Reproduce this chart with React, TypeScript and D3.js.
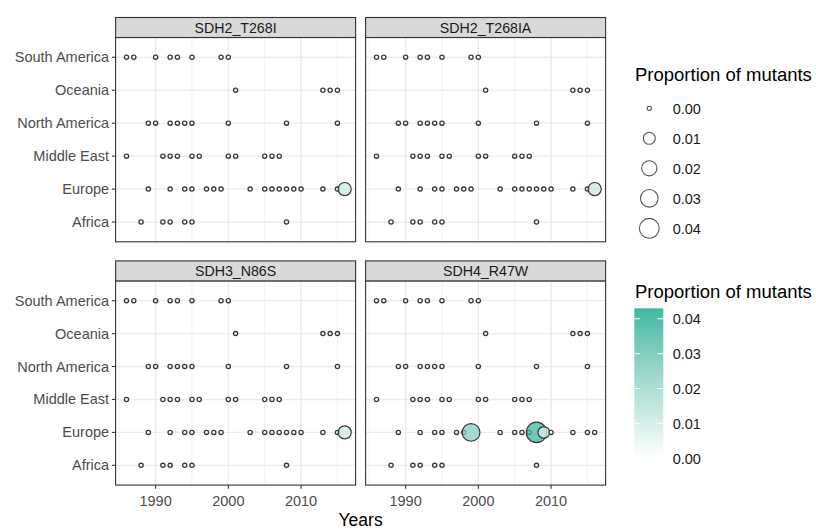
import React from "react";
import * as d3 from "d3";

// regions, top to bottom as in the panels
const regions = ["South America", "Oceania", "North America", "Middle East", "Europe", "Africa"];
const mutations = ["SDH2_T268I", "SDH2_T268IA", "SDH3_N86S", "SDH4_R47W"];

// sampling years per region (same in every panel)
const yearsSouthAmerica = [1986, 1987, 1990, 1992, 1993, 1995, 1999, 2000];
const yearsOceania = [2001, 2013, 2014, 2015];
const yearsNorthAmerica = [1989, 1990, 1992, 1993, 1994, 1995, 2000, 2008, 2015];
const yearsMiddleEast = [1986, 1991, 1992, 1993, 1995, 1996, 2000, 2001, 2005, 2006, 2007];
const yearsEurope = [1989, 1992, 1994, 1995, 1997, 1998, 1999, 2003, 2005, 2006, 2007, 2008, 2009, 2010, 2013, 2015, 2016];
const yearsAfrica = [1988, 1991, 1992, 1994, 1995, 2008];
const yearsByRegion = [yearsSouthAmerica, yearsOceania, yearsNorthAmerica, yearsMiddleEast, yearsEurope, yearsAfrica];

// the non-zero proportions (everything else is 0)
const mutantPanel = ["SDH2_T268I", "SDH2_T268IA", "SDH3_N86S", "SDH4_R47W", "SDH4_R47W", "SDH4_R47W"];
const mutantRegion = ["Europe", "Europe", "Europe", "Europe", "Europe", "Europe"];
const mutantYear = [2016, 2016, 2016, 1999, 2008, 2009];
const mutantProp = [0.013, 0.013, 0.013, 0.03, 0.043, 0.009];

const xTicks = [1990, 2000, 2010];
const xMinor = [1985, 1995, 2005, 2015];
const legendBreaks = [0, 0.01, 0.02, 0.03, 0.04];

const FONT = "'Liberation Sans', Arial, Helvetica, sans-serif";
const maxProp = 0.043;
const highColor = "#3eb8a4";

export default function App() {
  const width = 816;
  const height = 529;
  const colLeft = [115.6, 365.6];
  const panelW = 240;
  const rowBox = [
    { top: 37.5, bottom: 241.8 },
    { top: 280.9, bottom: 485.1 },
  ];
  const stripH = 20;

  const size = d3.scaleSqrt().domain([0, maxProp]).range([2.1, 10.2]);
  const fill = d3.scaleLinear<string>().domain([0, maxProp]).range(["#ffffff", highColor]).interpolate(d3.interpolateLab);

  const lookup = (panel: string, region: string, year: number) => {
    for (let i = 0; i < mutantPanel.length; i++) {
      if (mutantPanel[i] === panel && mutantRegion[i] === region && mutantYear[i] === year) return mutantProp[i];
    }
    return 0;
  };

  const panels = mutations.map((m, i) => {
    const col = i % 2;
    const row = Math.floor(i / 2);
    const { top, bottom } = rowBox[row];
    const x = d3.scaleLinear().domain([1984.5, 2017.5]).range([colLeft[col], colLeft[col] + panelW]);
    const y = d3.scalePoint<string>().domain(regions).range([top, bottom]).padding(0.6);
    const pts: { year: number; region: string; v: number }[] = [];
    regions.forEach((r, ri) => {
      yearsByRegion[ri].forEach((yr) => pts.push({ year: yr, region: r, v: lookup(m, r, yr) }));
    });
    return { m, col, row, top, bottom, x, y, pts };
  });

  // colour bar
  const cbX = 634.3;
  const cbW = 29;
  const cbY = d3.scaleLinear().domain([0, maxProp]).range([458.3, 308.3]);

  return (
    <svg width={width} height={height} style={{ position: "absolute", left: 0, top: 0, background: "#fff" }} fontFamily={FONT}>
      <defs>
        <linearGradient id="cbgrad" x1="0" y1="1" x2="0" y2="0">
          {d3.range(0, 11).map((k) => (
            <stop key={k} offset={k / 10} stopColor={fill((k / 10) * maxProp)} />
          ))}
        </linearGradient>
      </defs>
      <rect x={0} y={0} width={width} height={height} fill="#ffffff" />
      {panels.map((p) => {
        const [x0, x1] = p.x.range();
        return (
          <g key={p.m}>
            <rect x={x0} y={p.top} width={x1 - x0} height={p.bottom - p.top} fill="#ffffff" />
            {xMinor.map((t) => (
              <line key={"mn" + t} x1={p.x(t)} x2={p.x(t)} y1={p.top} y2={p.bottom} stroke="#f0f0f0" strokeWidth={0.9} />
            ))}
            {xTicks.map((t) => (
              <line key={"mj" + t} x1={p.x(t)} x2={p.x(t)} y1={p.top} y2={p.bottom} stroke="#ebebeb" strokeWidth={1.4} />
            ))}
            {regions.map((r) => (
              <line key={"hy" + r} x1={x0} x2={x1} y1={p.y(r)} y2={p.y(r)} stroke="#ebebeb" strokeWidth={1.4} />
            ))}
            {p.pts.map((d, k) => (
              <circle
                key={k}
                cx={p.x(d.year)}
                cy={p.y(d.region)}
                r={size(d.v)}
                fill={fill(d.v)}
                fillOpacity={d.v > 0 ? 0.74 : 1}
                stroke="#383838"
                strokeWidth={d.v > 0 ? 1.2 : 1.3}
              />
            ))}
            <rect x={x0} y={p.top} width={x1 - x0} height={p.bottom - p.top} fill="none" stroke="#333333" strokeWidth={1.1} />
            {/* strip */}
            <rect x={x0} y={p.top - stripH} width={x1 - x0} height={stripH} fill="#d9d9d9" stroke="#333333" strokeWidth={1.1} />
            <text x={(x0 + x1) / 2} y={p.top - stripH / 2 + 5} textAnchor="middle" fontSize={14.2} fill="#1a1a1a">
              {p.m}
            </text>
            {/* y axis on left column */}
            {p.col === 0 &&
              regions.map((r) => (
                <g key={"yl" + r}>
                  <line x1={x0 - 3.7} x2={x0} y1={p.y(r)} y2={p.y(r)} stroke="#333333" strokeWidth={1.1} />
                  <text x={x0 - 6.5} y={(p.y(r) as number) + 5} textAnchor="end" fontSize={14.5} fill="#4d4d4d">
                    {r}
                  </text>
                </g>
              ))}
            {/* x axis on bottom row */}
            {p.row === 1 &&
              xTicks.map((t) => (
                <g key={"xl" + t}>
                  <line x1={p.x(t)} x2={p.x(t)} y1={p.bottom} y2={p.bottom + 3.7} stroke="#333333" strokeWidth={1.1} />
                  <text x={p.x(t)} y={p.bottom + 20.5} textAnchor="middle" fontSize={14.5} fill="#4d4d4d">
                    {t}
                  </text>
                </g>
              ))}
          </g>
        );
      })}
      <text x={(colLeft[0] + colLeft[1] + panelW) / 2} y={526} textAnchor="middle" fontSize={17.5} fill="#000">
        Years
      </text>

      {/* size legend */}
      <text x={635} y={81} fontSize={18.5} fill="#000">
        Proportion of mutants
      </text>
      {legendBreaks.map((b, i) => (
        <g key={"sz" + b}>
          <circle cx={649.3} cy={108.3 + i * 30} r={size(b)} fill="#ffffff" stroke="#555555" strokeWidth={1.1} />
          <text x={672.7} y={108.3 + i * 30 + 5.2} fontSize={14.5} fill="#1a1a1a">
            {b.toFixed(2)}
          </text>
        </g>
      ))}

      {/* colour legend */}
      <text x={635} y={298} fontSize={18.5} fill="#000">
        Proportion of mutants
      </text>
      <rect x={cbX} y={cbY(maxProp)} width={cbW} height={cbY(0) - cbY(maxProp)} fill="url(#cbgrad)" />
      {legendBreaks.map((b) => (
        <g key={"cb" + b}>
          <line x1={cbX} x2={cbX + 5.8} y1={cbY(b)} y2={cbY(b)} stroke="#ffffff" strokeWidth={1} />
          <line x1={cbX + cbW - 5.8} x2={cbX + cbW} y1={cbY(b)} y2={cbY(b)} stroke="#ffffff" strokeWidth={1} />
          <text x={672.7} y={cbY(b) + 5.2} fontSize={14.5} fill="#1a1a1a">
            {b.toFixed(2)}
          </text>
        </g>
      ))}
    </svg>
  );
}
